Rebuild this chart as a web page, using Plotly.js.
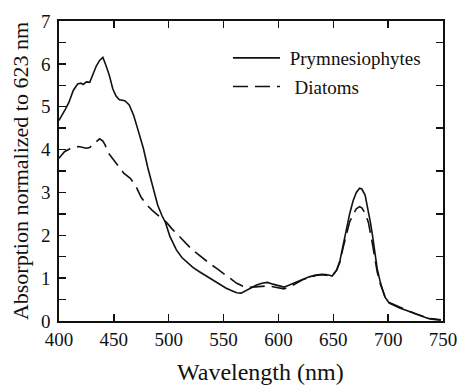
<!DOCTYPE html>
<html>
<head>
<meta charset="utf-8">
<script src="https://cdn.plot.ly/plotly-3.0.1.min.js"></script>
<style>html,body{margin:0;padding:0;background:#fff;}#chart{width:457px;height:385px;}</style>
</head>
<body>
<div id="chart"></div>
<script>
// Prymnesiophytes (solid)
const wlPrym = [400,403,406,409,413,417,420,422,425,428,431,434,437,440,443,446,449,452,455,460,464,468,472,477,481,486,490,494,497,501,507,512,516,522,528,533,538,543,547,552,557,562,566,570,575,580,585,590,595,600,605,610,616,622,628,634,640,645,649,653,656,659,662,665,668,671,674,676,679,681,684,686,688,690,693,697,701,706,711,715,720,725,729,734,738,743,748];
const absPrym = [4.68,4.80,4.95,5.10,5.38,5.53,5.55,5.52,5.58,5.57,5.75,5.95,6.08,6.15,5.95,5.72,5.42,5.25,5.16,5.14,5.04,4.80,4.46,4.02,3.57,3.08,2.70,2.45,2.30,1.98,1.66,1.48,1.38,1.25,1.15,1.07,0.99,0.92,0.84,0.77,0.71,0.66,0.65,0.70,0.78,0.84,0.88,0.90,0.86,0.82,0.79,0.84,0.91,0.97,1.03,1.07,1.09,1.08,1.05,1.19,1.40,1.77,2.15,2.51,2.80,3.00,3.10,3.08,2.94,2.70,2.28,1.95,1.59,1.22,0.89,0.56,0.42,0.35,0.30,0.26,0.21,0.16,0.12,0.08,0.05,0.03,0.02];

// Diatoms (dashed)
const wlDiat = [400,405,410,414,418,422,425,428,432,437,440,442,445,450,455,459,465,470,475,480,485,490,494,498,503,508,514,520,526,532,538,544,550,556,562,568,572,576,580,585,590,595,600,605,610,616,622,628,634,640,645,649,653,656,659,662,665,668,671,674,676,679,682,685,688,690,693,697,701,706,711,715,720,725,729,734,738,743,748];
const absDiat = [3.80,3.95,4.02,4.06,4.07,4.05,4.03,4.05,4.13,4.25,4.20,4.11,3.92,3.75,3.58,3.45,3.33,3.15,2.88,2.71,2.58,2.47,2.39,2.30,2.15,2.02,1.86,1.70,1.57,1.44,1.33,1.22,1.10,0.98,0.88,0.81,0.78,0.79,0.80,0.81,0.82,0.80,0.78,0.75,0.79,0.88,0.96,1.02,1.06,1.08,1.07,1.05,1.18,1.37,1.72,2.05,2.32,2.47,2.62,2.67,2.64,2.52,2.30,1.90,1.50,1.15,0.85,0.58,0.43,0.37,0.31,0.27,0.22,0.17,0.13,0.09,0.06,0.04,0.03];

const seriesNames = ["\u00a0Prymnesiophytes", "\u00a0\u00a0Diatoms"];
const xTicks = [400,450,500,550,600,650,700,750];
const yTicks = [0,1,2,3,4,5,6,7];
const yRightTicks = [0.5,1.5,2.5,3.5,4.5,5.5,6.5];
const xTitle = "Wavelength (nm)";
const yTitle = "Absorption normalized to 623 nm";

const FONT = "Liberation Serif";

const traces = [
  {x: wlPrym, y: absPrym, name: seriesNames[0], mode: "lines", legendgroup: "a",
   line: {color: "#111", width: 1.6}},
  {x: wlDiat, y: absDiat, name: seriesNames[1], mode: "lines", legendgroup: "b",
   line: {color: "#111", width: 1.6, dash: "15px,7px"}},
  {x: [null], y: [null], yaxis: "y2", showlegend: false, hoverinfo: "skip"}
];

const layout = {
  width: 457, height: 385,
  margin: {l: 59, r: 14, t: 21, b: 64},
  paper_bgcolor: "#fff", plot_bgcolor: "#fff",
  font: {family: FONT, color: "#111", size: 19},
  showlegend: true,
  legend: {x: 0.44, y: 0.94, xanchor: "left", yanchor: "top",
           font: {family: FONT, size: 19, color: "#111"},
           bgcolor: "rgba(0,0,0,0)", tracegroupgap: 1, itemwidth: 47},
  annotations: [{
    text: xTitle, xref: "paper", yref: "paper", x: 0.526, y: -0.17,
    xanchor: "center", yanchor: "middle", showarrow: false,
    font: {family: FONT, size: 24, color: "#111"}
  }],
  xaxis: {
    range: [400, 750], tickvals: xTicks, ticktext: xTicks.map(String),
    ticks: "inside", ticklen: 7, tickwidth: 1.5, tickcolor: "#111",
    ticklabeloverflow: "allow",
    showline: true, linewidth: 1.8, linecolor: "#111", mirror: "ticks",
    showgrid: false, zeroline: false,
    tickfont: {family: FONT, size: 19, color: "#111"},
    automargin: false
  },
  yaxis: {
    range: [0, 7], tickvals: yTicks, ticktext: yTicks.map(String),
    ticks: "inside", ticklen: 7, tickwidth: 1.5, tickcolor: "#111",
    ticklabelstandoff: 3, ticklabeloverflow: "allow",
    minor: {dtick: 0.5, ticks: "inside", ticklen: 7, tickwidth: 1.5, tickcolor: "#111", showgrid: false},
    showline: true, linewidth: 1.8, linecolor: "#111", mirror: true,
    showgrid: false, zeroline: false,
    tickfont: {family: FONT, size: 19, color: "#111"},
    title: {text: yTitle, font: {family: FONT, size: 22, color: "#111"}, standoff: 6},
    automargin: false
  },
  yaxis2: {
    overlaying: "y", side: "right", range: [0, 7], tickvals: yRightTicks,
    showticklabels: false, ticks: "inside", ticklen: 7, tickwidth: 1.5, tickcolor: "#111",
    showline: false, showgrid: false, zeroline: false
  }
};

Plotly.newPlot("chart", traces, layout, {staticPlot: true, displayModeBar: false});
</script>
</body>
</html>
